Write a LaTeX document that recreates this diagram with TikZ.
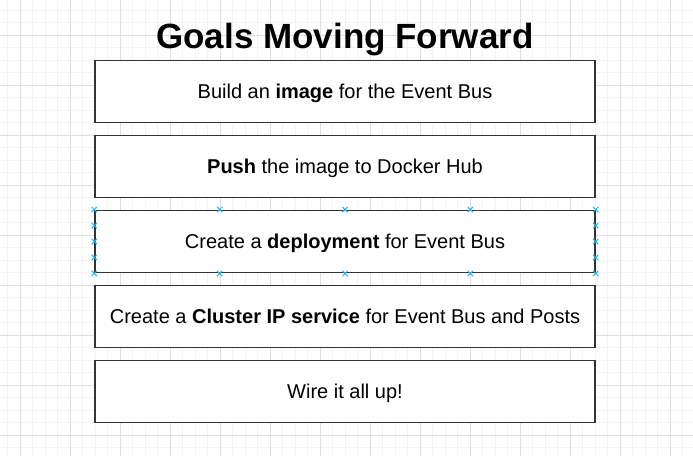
\documentclass[tikz,border=0pt]{standalone}
\usepackage{fontspec}
\setmainfont{Liberation Sans}
\usetikzlibrary{calc}
\definecolor{gridminor}{HTML}{F3F3F3}
\definecolor{gridmajor}{HTML}{DFDFDF}
\definecolor{boxline}{HTML}{333333}
\definecolor{handle}{HTML}{29B6F2}
\begin{document}
\begin{tikzpicture}[x=1pt,y=-1pt,
  goalbox/.style={draw=boxline,line width=1.4pt,fill=white,minimum width=500pt,minimum height=62.5pt,inner sep=0pt,text height=14.3pt,text depth=0pt,font=\fontsize{20}{24}\selectfont},
  titletext/.style={font=\fontsize{35}{40}\selectfont\bfseries,inner sep=0pt,text height=25pt,text depth=0pt},
  hmark/.style={draw=handle,line width=1pt}]
\useasboundingbox (0,0) rectangle (693,456);
\fill[white] (0,0) rectangle (693,456);
% grid
\foreach \k in {0,...,55} {
  \draw[gridminor,line width=0.8pt] ({7.5+12.5*\k},0) -- ({7.5+12.5*\k},456);
}
\foreach \k in {0,...,37} {
  \draw[gridminor,line width=0.8pt] (0,{10+12.5*\k}) -- (693,{10+12.5*\k});
}
\foreach \k in {0,...,13} {
  \draw[gridmajor,line width=0.8pt] ({20+50*\k},0) -- ({20+50*\k},456);
}
\foreach \k in {0,...,9} {
  \draw[gridmajor,line width=0.8pt] (0,{35+50*\k}) -- (693,{35+50*\k});
}
% title
\node[titletext] (title) at (345,35.5) {Goals Moving Forward};
% boxes
\node[goalbox] (b1) at (345,91.5) {Build an \textbf{image} for the Event Bus};
\node[goalbox] (b2) at (345,166.5) {\textbf{Push} the image to Docker Hub};
\node[goalbox] (b3) at (345,241.5) {Create a \textbf{deployment} for Event Bus};
\node[goalbox] (b4) at (345,316.5) {Create a \textbf{Cluster IP service} for Event Bus and Posts};
\node[goalbox] (b5) at (345,391.5) {Wire it all up!};
% selection handles on b3
\foreach \f in {0,0.25,0.5,0.75,1} {
  \coordinate (t) at ($(b3.north west)!\f!(b3.north east)$);
  \coordinate (bt) at ($(b3.south west)!\f!(b3.south east)$);
  \draw[hmark] ([shift={(-2.7,-2.7)}]t) -- ([shift={(2.7,2.7)}]t) ([shift={(-2.7,2.7)}]t) -- ([shift={(2.7,-2.7)}]t);
  \draw[hmark] ([shift={(-2.7,-2.7)}]bt) -- ([shift={(2.7,2.7)}]bt) ([shift={(-2.7,2.7)}]bt) -- ([shift={(2.7,-2.7)}]bt);
}
\foreach \f in {0.25,0.5,0.75} {
  \coordinate (l) at ($(b3.north west)!\f!(b3.south west)$);
  \coordinate (r) at ($(b3.north east)!\f!(b3.south east)$);
  \draw[hmark] ([shift={(-2.7,-2.7)}]l) -- ([shift={(2.7,2.7)}]l) ([shift={(-2.7,2.7)}]l) -- ([shift={(2.7,-2.7)}]l);
  \draw[hmark] ([shift={(-2.7,-2.7)}]r) -- ([shift={(2.7,2.7)}]r) ([shift={(-2.7,2.7)}]r) -- ([shift={(2.7,-2.7)}]r);
}
\end{tikzpicture}
\end{document}
